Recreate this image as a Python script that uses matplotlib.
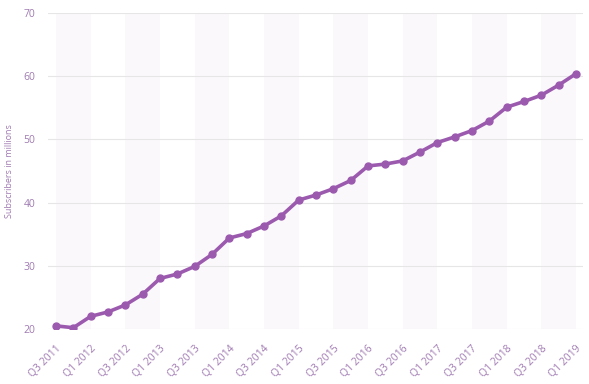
import numpy as np
import matplotlib.pyplot as plt

plt.rcParams['font.family'] = ['Open Sans', 'DejaVu Sans']

quarters = ['Q3 2011', 'Q4 2011',
            'Q1 2012', 'Q2 2012', 'Q3 2012', 'Q4 2012',
            'Q1 2013', 'Q2 2013', 'Q3 2013', 'Q4 2013',
            'Q1 2014', 'Q2 2014', 'Q3 2014', 'Q4 2014',
            'Q1 2015', 'Q2 2015', 'Q3 2015', 'Q4 2015',
            'Q1 2016', 'Q2 2016', 'Q3 2016', 'Q4 2016',
            'Q1 2017', 'Q2 2017', 'Q3 2017', 'Q4 2017',
            'Q1 2018', 'Q2 2018', 'Q3 2018', 'Q4 2018',
            'Q1 2019']
subscribers = [20.5, 20.2,
               22.0, 22.7, 23.8, 25.5,
               28.0, 28.7, 29.9, 31.8,
               34.4, 35.1, 36.3, 37.9,
               40.4, 41.2, 42.2, 43.5,
               45.8, 46.1, 46.6, 48.0,
               49.5, 50.4, 51.4, 52.9,
               55.1, 56.0, 57.0, 58.6,
               60.4]

line_col = '#9b5aae'
text_col = '#a07ab2'

x = np.arange(len(quarters))

fig = plt.figure(figsize=(5.89, 3.84), dpi=100)
ax = fig.add_axes([48 / 589, 1 - 329 / 384, (583 - 48) / 589, (329 - 13) / 384])

# alternating background bands, two quarters wide
for start in range(0, len(quarters) - 1, 4):
    ax.axvspan(start, start + 2, color='#fbf8fb', zorder=0, lw=0)

ax.plot(x, subscribers, color=line_col, lw=2.6, marker='o', ms=5,
        zorder=3, solid_capstyle='round')

ax.set_ylim(20, 70)
ax.set_xlim(-0.46, 30.4)
ax.set_yticks(range(20, 71, 10))
ax.yaxis.grid(True, color='#e6e6e6', lw=0.8)
ax.set_axisbelow(True)

ax.set_xticks(x[::2])
ax.set_xticklabels(quarters[::2], rotation=45, ha='right', rotation_mode='anchor')
ax.tick_params(axis='both', length=0, colors=text_col, labelsize=7.5)
ax.tick_params(axis='x', pad=10)
ax.tick_params(axis='y', pad=9)

for s in ax.spines.values():
    s.set_visible(False)

ax.set_ylabel('Subscribers in millions', color=text_col, fontsize=6.5)
ax.yaxis.set_label_coords(-0.064, 0.5)

fig.savefig('out.png', dpi=100)
